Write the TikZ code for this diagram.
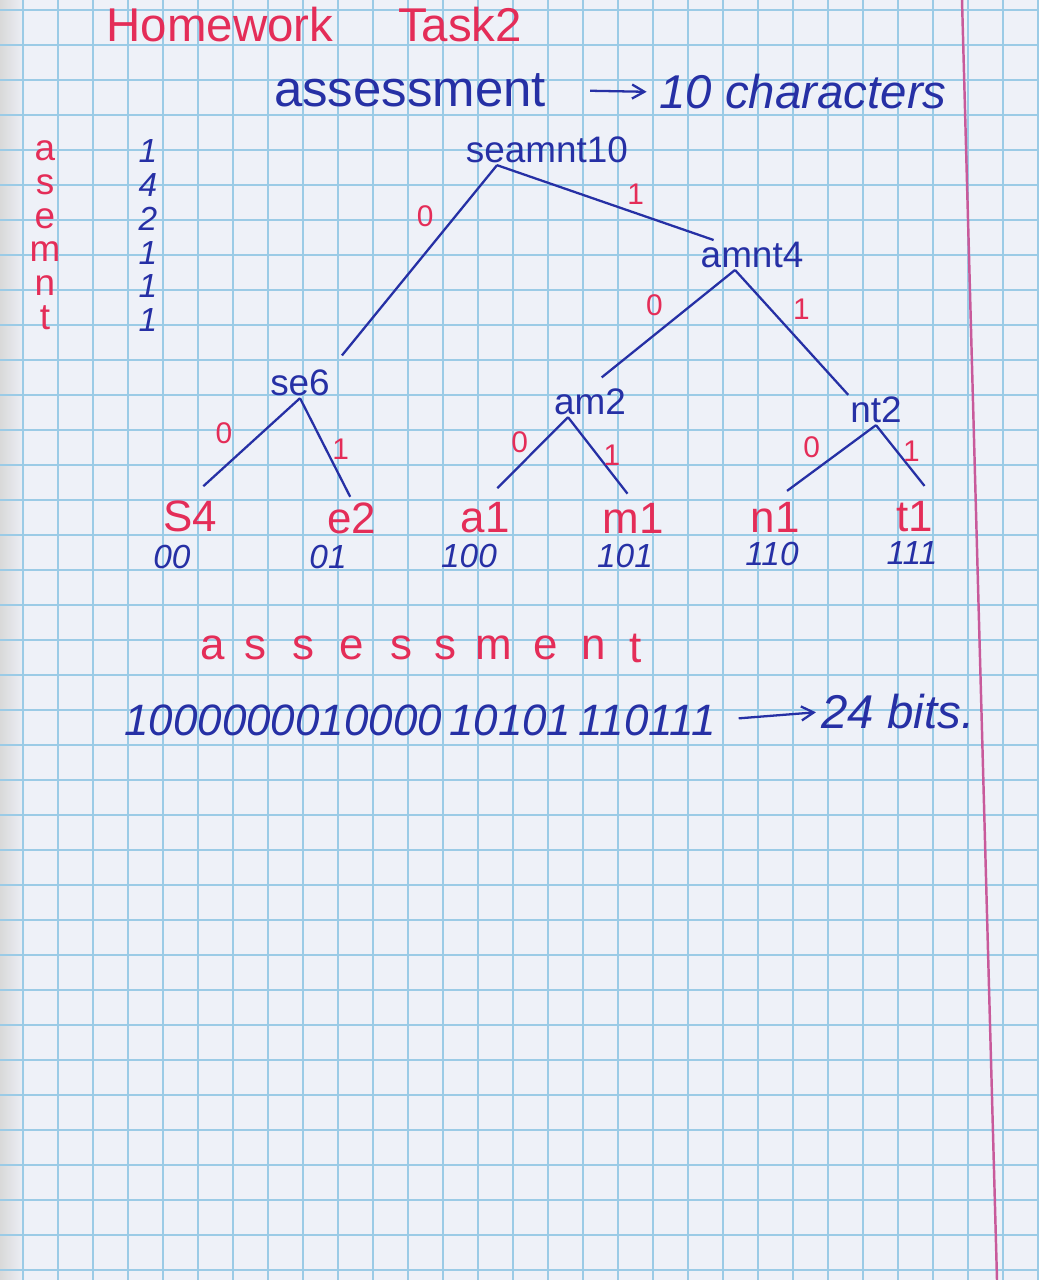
\documentclass[tikz,border=0pt]{standalone}
\usepackage{fontspec}
\setmainfont{Liberation Sans}
\usepackage{xcolor}
\usetikzlibrary{arrows.meta, positioning}

\definecolor{inkblue}{RGB}{38,48,165}
\definecolor{inkred}{RGB}{228,45,88}
\definecolor{gridblue}{RGB}{155,203,230}
\definecolor{paper}{RGB}{238,241,248}
\definecolor{marginred}{RGB}{200,90,155}

\tikzset{
    blueword/.style={text=inkblue, font=\fontsize{21}{24}\selectfont, inner sep=1pt},
    bigblue/.style={text=inkblue, font=\fontsize{29}{32}\selectfont, inner sep=1pt},
    redword/.style={text=inkred, font=\fontsize{25}{30}\selectfont, inner sep=1pt},
    tablecol/.style={align=center, inner sep=0pt, anchor=north},
    codeword/.style={text=inkblue, font=\itshape\fontsize{19}{22}\selectfont, inner sep=1pt},
    bitlabel/.style={text=inkred, font=\fontsize{17}{20}\selectfont, inner sep=2pt},
    branch/.style={draw=inkblue, line width=1.3pt},
    gridline/.style={draw=gridblue, line width=0.6pt},
    handarrow/.style={draw=inkblue, line width=1.3pt, -{Straight Barb[length=7pt, width=8pt]}}
}

\begin{document}
\begin{tikzpicture}[x=0.02cm, y=-0.02cm]
    \useasboundingbox (0,0) rectangle (1039,1280);

    % Paper and grid
    \fill[paper] (0,0) rectangle (1039,1280);
    \fill[left color=gray!30, right color=paper] (0,0) rectangle (25,1280);
    \foreach \gx in {23,58,...,1039}
        \draw[gridline] (\gx,0) -- (\gx,1280);
    \foreach \gy in {10,45,...,1280}
        \draw[gridline] (0,\gy) -- (1039,\gy);
    \draw[marginred, line width=1.4pt] (962,0) -- (997,1280);

    % Heading
    \node[redword, font=\fontsize{27}{32}\selectfont] (homework) at (220,25) {Homework};
    \node[redword, font=\fontsize{27}{32}\selectfont] (task) at (460,25) {Task2};
    \node[bigblue] (word) at (410,90) {assessment};
    \node[bigblue, font=\itshape\fontsize{27}{32}\selectfont] (count) at (803,92) {10 characters};
    \draw[handarrow, shorten <=24pt, shorten >=6pt] (word.east) -- (count.west);

    % Frequency table
    \node[tablecol, text=inkred, font=\fontsize{21}{19.3}\selectfont] (letters) at (45,140)
        {a\\ s\\ e\\ m\\ n\\ t};
    \node[tablecol, text=inkblue, font=\itshape\fontsize{19}{19.3}\selectfont] (freqs) at (148,139)
        {1\\ 4\\ 2\\ 1\\ 1\\ 1};

    % Tree nodes
    \node[blueword] (root) at (547,150) {seamnt10};
    \node[blueword] (amnt) at (752,255) {amnt4};
    \node[blueword] (se) at (300,383) {se6};
    \node[blueword] (am) at (590,402) {am2};
    \node[blueword] (nt) at (876,410) {nt2};

    % Leaves and codes
    \node[redword] (s) at (190,516) {S4};
    \node[redword] (e) at (352,518) {e2};
    \node[redword] (a) at (485,518) {a1};
    \node[redword] (m) at (633,518) {m1};
    \node[redword] (n) at (775,517) {n1};
    \node[redword] (t) at (915,517) {t1};
    \node[codeword] (s-code) at (172,557) {00};
    \node[codeword] (e-code) at (328,557) {01};
    \node[codeword] (a-code) at (469,556) {100};
    \node[codeword] (m-code) at (625,556) {101};
    \node[codeword] (n-code) at (772,554) {110};
    \node[codeword] (t-code) at (912,553) {111};

    % Branch points
    \coordinate (rootfork) at ([xshift=-1cm]root.south);
    \coordinate (amntfork) at ([xshift=-0.34cm]amnt.south);
    \coordinate (amfork) at ([xshift=-0.44cm]am.south);

    % Branches
    \draw[branch, shorten >=0.32cm] (rootfork) -- node[bitlabel, pos=0.25, left=10pt] {0} (se.north east);
    \draw[branch] (rootfork) -- node[bitlabel, pos=0.64, above=2pt] {1} ([xshift=0.3cm]amnt.north west);
    \draw[branch, shorten >=0.3cm] (amntfork) -- node[bitlabel, pos=0.45, above left=2pt] {0} (am.north);
    \draw[branch] (amntfork) -- node[bitlabel, pos=0.45, above right=2pt] {1} (nt.north west);
    \draw[branch, shorten >=0.36cm] (se.south) -- node[bitlabel, pos=0.35, left=14pt] {0} (s.north);
    \draw[branch, shorten >=0.08cm] (se.south) -- node[bitlabel, pos=0.5, right=1pt] {1} (e.north);
    \draw[branch, shorten >=0.35cm] (amfork) -- node[bitlabel, pos=0.3, left=6pt] {0} (a.north);
    \draw[branch, shorten >=0.18cm] (amfork) -- node[bitlabel, pos=0.45, right=1pt] {1} (m.north);
    \draw[branch, shorten >=0.3cm] (nt.south) -- node[bitlabel, pos=0.3, left=12pt] {0} (n.north);
    \draw[branch, shorten >=0.35cm] (nt.south) -- node[bitlabel, pos=0.35, right=1pt] {1} (t.north east);

    % Encoded word
    \foreach \ch/\ex [count=\i] in {a/213,s/255,s/303,e/352,s/401,s/445,m/494,e/546,n/594,t/636}
        \node[redword] (enc-\i) at (\ex,648) {\ch};
    \node[codeword, font=\itshape\fontsize{25}{30}\selectfont] (bits) at (420,720) {1000000010000\,10101\,110111};
    \node[codeword, font=\itshape\fontsize{27}{32}\selectfont] (total) at (898,712) {24 bits.};
    \draw[handarrow, shorten <=12pt, shorten >=2pt] (bits.east) -- (total.west);
\end{tikzpicture}
\end{document}
